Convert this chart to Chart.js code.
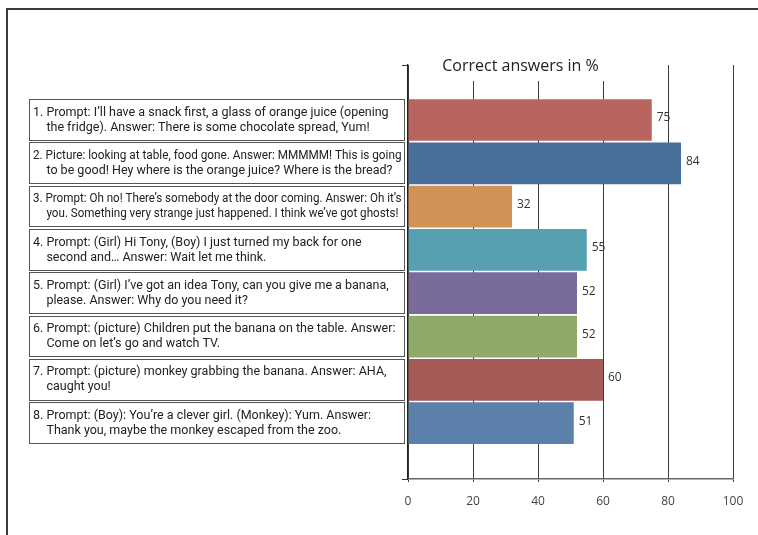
<!DOCTYPE html>
<html><head><meta charset="utf-8">
<script src="https://cdn.jsdelivr.net/npm/chart.js@4"></script>
<style>html,body{margin:0;padding:0;background:#fff}#wrap{width:758px;height:535px;position:relative}canvas{display:block}</style>
</head><body><div id="wrap"><canvas id="c" width="758" height="535"></canvas></div>
<script>
const TITLE = 'Correct answers in %';
const CATEGORIES = [
  ["1. Prompt: I’ll have a snack first, a glass of orange juice (opening", "the fridge). Answer: There is some chocolate spread, Yum!"],
  ["2. Picture: looking at table, food gone. Answer: MMMMM! This is going", "to be good! Hey where is the orange juice? Where is the bread?"],
  ["3. Prompt: Oh no! There’s somebody at the door coming. Answer: Oh it’s", "you. Something very strange just happened. I think we’ve got ghosts!"],
  ["4. Prompt: (Girl) Hi Tony, (Boy) I just turned my back for one", "second and… Answer: Wait let me think."],
  ["5. Prompt: (Girl) I’ve got an idea Tony, can you give me a banana,", "please. Answer: Why do you need it?"],
  ["6. Prompt: (picture) Children put the banana on the table. Answer:", "Come on let’s go and watch TV."],
  ["7. Prompt: (picture) monkey grabbing the banana. Answer: AHA,", "caught you!"],
  ["8. Prompt: (Boy): You’re a clever girl. (Monkey): Yum. Answer:", "Thank you, maybe the monkey escaped from the zoo."]
];
const VALUES = [75, 84, 32, 55, 52, 52, 60, 51];
const COLORS = ['#B9645F', '#48709A', '#D29255', '#57A0B2', '#7A6C9A', '#8FAA68', '#A55A55', '#5B80AA'];
const X_TICKS = [0, 20, 40, 60, 80, 100];
const Y_MIN = -1.27, Y_MAX = 8.29;

const FONT = '"Open Sans", "Noto Sans", sans-serif';
const TABLE_FONT = 'Roboto, "Open Sans", sans-serif';

const framePlugin = {
  id: 'frame',
  beforeDraw(chart) {
    const ctx = chart.ctx;
    ctx.save();
    ctx.fillStyle = '#fff';
    ctx.fillRect(0, 0, chart.width, chart.height);
    ctx.strokeStyle = '#3a3a3a';
    ctx.lineWidth = 2;
    ctx.strokeRect(7, 9, chart.width + 50, chart.height + 50);
    ctx.restore();
  }
};

const titlePlugin = {
  id: 'titleBox',
  afterDraw(chart) {
    const ctx = chart.ctx;
    ctx.save();
    ctx.font = '16px ' + FONT;
    const w = ctx.measureText(TITLE).width;
    const cx = 520.5;
    ctx.fillStyle = '#fff';
    ctx.fillRect(cx - w / 2 - 8, chart.chartArea.top - 3, w + 16, 19);
    ctx.fillStyle = '#222';
    ctx.textAlign = 'center';
    ctx.textBaseline = 'alphabetic';
    ctx.fillText(TITLE, cx, 71);
    ctx.restore();
  }
};

const tablePlugin = {
  id: 'table',
  afterDatasetsDraw(chart) {
    const ctx = chart.ctx;
    const meta = chart.getDatasetMeta(0);
    const boxL = 29.5, boxR = 404.5, textL = 33;
    ctx.save();
    meta.data.forEach((el, i) => {
      const top = Math.round(el.y - el.height / 2);
      const bot = Math.round(el.y + el.height / 2);
      ctx.strokeStyle = '#555';
      ctx.lineWidth = 1;
      ctx.strokeRect(boxL, top + 0.5, boxR - boxL, bot - top - 1);
      const lines = CATEGORIES[i];
      ctx.font = '12.5px ' + TABLE_FONT;
      const num = lines[0].split(' ')[0] + ' ';
      const indent = ctx.measureText(num).width;
      ctx.fillStyle = '#222';
      ctx.textAlign = 'left';
      ctx.textBaseline = 'middle';
      ctx.fillText(lines[0], textL, el.y - 7.5, boxR - 3 - textL);
      ctx.fillText(lines[1], textL + indent, el.y + 7.5, boxR - 6 - textL - indent);
      ctx.font = '12px ' + FONT;
      ctx.fillStyle = '#333';
      ctx.fillText(String(VALUES[i]), el.x + 5, el.y - 2);
    });
    ctx.restore();
  }
};

new Chart(document.getElementById('c'), {
  type: 'bar',
  data: {
    datasets: [{
      data: VALUES.map((v, i) => ({ x: v, y: i })),
      backgroundColor: COLORS,
      borderWidth: 0,
      categoryPercentage: 1,
      barPercentage: 0.963
    }]
  },
  options: {
    indexAxis: 'y',
    responsive: false,
    animation: false,
    devicePixelRatio: 1,
    layout: { padding: { left: 0, right: 25, top: 65, bottom: 0 } },
    plugins: { legend: { display: false }, tooltip: { enabled: false }, title: { display: false } },
    scales: {
      x: {
        type: 'linear', position: 'bottom', min: 0, max: 100,
        afterBuildTicks: s => { s.ticks = X_TICKS.map(v => ({ value: v })); },
        afterFit: s => { s.height = 56; },
        grid: { color: '#3c3c3c', lineWidth: 1, tickLength: 3, drawTicks: true },
        border: { display: true, color: '#666', width: 1.5 },
        ticks: { color: '#444', font: { family: FONT, size: 12 }, padding: 12, maxRotation: 0 }
      },
      y: {
        type: 'linear', position: 'left', reverse: true, min: Y_MIN, max: Y_MAX,
        offset: false, bounds: 'data', grace: 0,
        afterDataLimits: s => { s.min = Y_MIN; s.max = Y_MAX; },
        afterBuildTicks: s => { s.min = Y_MIN; s.max = Y_MAX; s.ticks = [{ value: Y_MIN }, { value: Y_MAX }]; },
        afterFit: s => { s.width = 408; },
        grid: { offset: false, drawOnChartArea: false, drawTicks: true, tickLength: 6, color: '#333', lineWidth: 1 },
        border: { display: true, color: '#222', width: 1.2 },
        ticks: { display: false }
      }
    }
  },
  plugins: [framePlugin, titlePlugin, tablePlugin]
});
</script></body></html>
